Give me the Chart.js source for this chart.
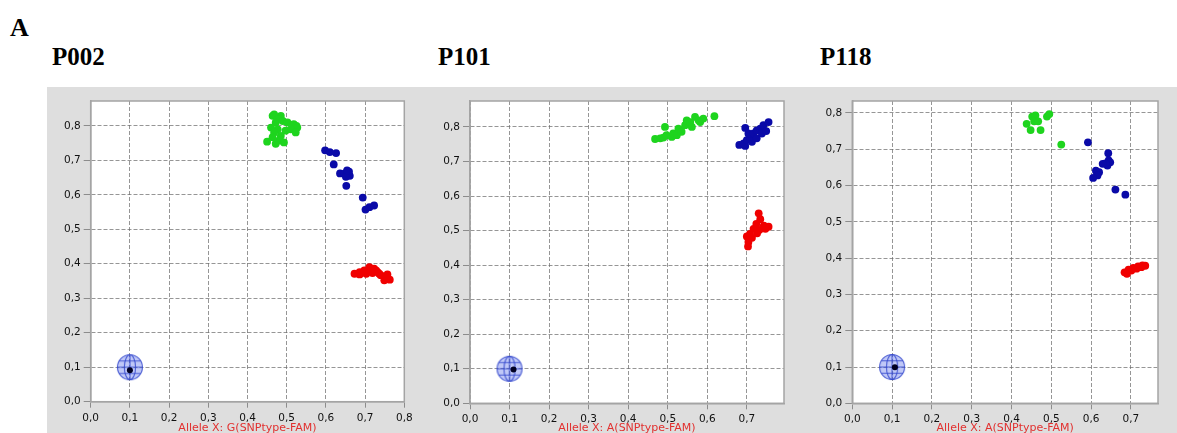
<!DOCTYPE html>
<html>
<head>
<meta charset="utf-8">
<script src="https://cdn.jsdelivr.net/npm/chart.js@4.4.0/dist/chart.umd.min.js"></script>
<style>
body{margin:0;background:#fff;width:1177px;height:433px;overflow:hidden;position:relative}
.strip{position:absolute;left:47px;top:87px;width:1130px;height:346px;background:#dedede}
.lbl{position:absolute;font-family:"Liberation Serif",serif;font-weight:bold;white-space:nowrap;color:#000}
canvas{position:absolute}
</style>
</head>
<body>
<div class="strip"></div>
<div class="lbl" style="left:10px;top:15px;font-size:26px;line-height:26px">A</div>
<div class="lbl" style="left:52px;top:44px;font-size:25px;line-height:25px">P002</div>
<div class="lbl" style="left:438px;top:44px;font-size:25px;line-height:25px">P101</div>
<div class="lbl" style="left:820px;top:44px;font-size:25px;line-height:25px">P118</div>
<canvas id="c1" width="383" height="346" style="left:47px;top:87px"></canvas>
<canvas id="c2" width="380" height="346" style="left:430px;top:87px"></canvas>
<canvas id="c3" width="362" height="346" style="left:810px;top:87px"></canvas>
<script>
// allele intensities, [x, y]
const p002Green = [[0.464,0.829],[0.485,0.829],[0.468,0.833],[0.477,0.819],[0.49,0.814],[0.472,0.81],[0.502,0.81],[0.518,0.805],[0.525,0.8],[0.527,0.795],[0.46,0.795],[0.477,0.79],[0.51,0.79],[0.497,0.786],[0.468,0.781],[0.523,0.781],[0.485,0.771],[0.464,0.767],[0.48,0.757],[0.45,0.754],[0.472,0.748],[0.493,0.752]];
const p002Blue = [[0.598,0.729],[0.61,0.724],[0.626,0.721],[0.62,0.688],[0.636,0.662],[0.648,0.662],[0.659,0.667],[0.661,0.655],[0.651,0.652],[0.654,0.671],[0.652,0.626],[0.694,0.592],[0.701,0.557],[0.711,0.564],[0.723,0.569]];
const p002Red = [[0.673,0.371],[0.686,0.376],[0.686,0.369],[0.698,0.381],[0.703,0.371],[0.711,0.39],[0.719,0.373],[0.723,0.386],[0.728,0.381],[0.732,0.376],[0.736,0.371],[0.74,0.367],[0.753,0.362],[0.757,0.369],[0.763,0.354],[0.749,0.352]];

const p101Green = [[0.468,0.765],[0.481,0.767],[0.489,0.769],[0.493,0.8],[0.497,0.776],[0.51,0.771],[0.514,0.781],[0.523,0.776],[0.527,0.795],[0.535,0.786],[0.544,0.805],[0.548,0.819],[0.557,0.814],[0.561,0.8],[0.569,0.829],[0.578,0.819],[0.582,0.814],[0.59,0.824],[0.618,0.831]];
const p101Blue = [[0.696,0.797],[0.681,0.748],[0.696,0.745],[0.692,0.752],[0.7,0.762],[0.713,0.757],[0.708,0.771],[0.704,0.781],[0.717,0.781],[0.725,0.767],[0.725,0.79],[0.734,0.795],[0.738,0.781],[0.742,0.805],[0.749,0.788],[0.755,0.814]];
const p101Red = [[0.73,0.55],[0.734,0.533],[0.724,0.519],[0.743,0.514],[0.755,0.511],[0.747,0.505],[0.717,0.505],[0.732,0.502],[0.726,0.492],[0.708,0.49],[0.7,0.483],[0.713,0.479],[0.704,0.467],[0.703,0.454]];

const p118Green = [[0.438,0.77],[0.452,0.79],[0.46,0.793],[0.457,0.777],[0.467,0.777],[0.448,0.753],[0.473,0.753],[0.489,0.79],[0.495,0.797],[0.525,0.713]];
const p118Blue = [[0.592,0.719],[0.643,0.689],[0.644,0.669],[0.648,0.664],[0.641,0.655],[0.636,0.661],[0.629,0.66],[0.612,0.641],[0.62,0.637],[0.616,0.628],[0.605,0.621],[0.661,0.589],[0.686,0.575]];
const p118Red = [[0.684,0.361],[0.69,0.357],[0.694,0.368],[0.701,0.366],[0.706,0.373],[0.714,0.371],[0.718,0.377],[0.726,0.375],[0.729,0.38],[0.736,0.379]];

// no-template-control target and its sample
const ntcTarget = [0.1, 0.1];
const ntcP002 = [0.1, 0.091];
const ntcP101 = [0.11, 0.098];
const ntcP118 = [0.107, 0.099];

const tickStep = 0.1;

const pts = a => a.map(p => ({x:p[0], y:p[1]}));
const fmtTick = v => v.toFixed(1).replace('.', ',');

function globe(){
  const c = document.createElement('canvas');
  c.width = c.height = 28;
  const g = c.getContext('2d'), m = 14, r = 12.5;
  g.fillStyle = 'rgba(90,110,235,0.38)';
  g.beginPath(); g.arc(m,m,r,0,Math.PI*2); g.fill();
  g.strokeStyle = 'rgba(50,70,205,0.85)'; g.lineWidth = 1.1;
  g.beginPath(); g.arc(m,m,r,0,Math.PI*2); g.stroke();
  g.beginPath(); g.ellipse(m,m,r*0.45,r,0,0,Math.PI*2); g.stroke();
  g.beginPath(); g.moveTo(m-r,m); g.lineTo(m+r,m); g.moveTo(m,m-r); g.lineTo(m,m+r); g.stroke();
  g.beginPath(); g.moveTo(m-r*0.87,m-r*0.5); g.lineTo(m+r*0.87,m-r*0.5); g.moveTo(m-r*0.87,m+r*0.5); g.lineTo(m+r*0.87,m+r*0.5); g.stroke();
  return c;
}
const globeImg = globe();

const frame = {
  id: 'frame',
  beforeDraw(c){
    const a = c.chartArea, x = c.ctx;
    x.save(); x.fillStyle = '#fff';
    x.fillRect(a.left, a.top, a.right-a.left, a.bottom-a.top);
    x.restore();
  },
  beforeDatasetsDraw(c){
    const a = c.chartArea, x = c.ctx;
    x.save(); x.strokeStyle = '#a4a4a4'; x.lineWidth = 1.5;
    x.strokeRect(a.left, a.top, a.right-a.left, a.bottom-a.top);
    x.restore();
  }
};

const tickFont = {family: 'DejaVu Sans', size: 10.5};

function panel(id, o){
  const ds = (data, color, r) => ({data: pts(data), backgroundColor: color, borderWidth: 0, pointRadius: r});
  new Chart(document.getElementById(id), {
    type: 'scatter',
    data: { datasets: [
      ds([o.ntc], '#000022', 3),
      {data: pts([ntcTarget]), pointStyle: globeImg, pointRadius: 13},
      ds(o.red, '#f00000', 3.9),
      ds(o.blue, '#0a0aa8', 3.9),
      ds(o.green, '#1ed41e', 3.9)
    ]},
    options: {
      responsive: false, animation: false,
      layout: {padding: {top: o.pt, right: o.pr, left: 0, bottom: 0}},
      plugins: {legend: {display: false}, tooltip: {enabled: false}},
      scales: {
        x: {
          min: 0, max: o.xmax,
          ticks: {stepSize: tickStep, includeBounds: false, autoSkip: false, maxRotation: 0, padding: 4,
            color: '#111', font: tickFont, callback: fmtTick},
          grid: {color: 'rgba(105,105,105,0.7)', tickLength: 6, tickColor: '#8c8c8c', tickBorderDash: []},
          border: {color: '#a4a4a4', width: 1.5, dash: [4,2]},
          title: {display: true, text: o.xtitle, color: '#e2302f', font: {family: 'DejaVu Sans', size: 11}, padding: {top: 0, bottom: -1.5}},
          afterFit: s => { s.height = o.xh; }
        },
        y: {
          min: 0, max: o.ymax,
          ticks: {stepSize: tickStep, includeBounds: false, autoSkip: false, padding: 3,
            color: '#111', font: tickFont, callback: fmtTick},
          grid: {color: 'rgba(105,105,105,0.7)', tickLength: 7, tickColor: '#8c8c8c', tickBorderDash: []},
          border: {color: '#a4a4a4', width: 1.5, dash: [4,2]},
          afterFit: s => { s.width = o.yw; }
        }
      }
    },
    plugins: [frame]
  });
}

panel('c1', {green: p002Green, blue: p002Blue, red: p002Red, ntc: ntcP002, xmax: 0.8, ymax: 0.872,
  xtitle: 'Allele X: G(SNPtype-FAM)', yw: 43.7, xh: 31.3, pt: 11, pr: 25.7});
panel('c2', {green: p101Green, blue: p101Blue, red: p101Red, ntc: ntcP101, xmax: 0.794, ymax: 0.875,
  xtitle: 'Allele X: A(SNPtype-FAM)', yw: 40, xh: 29.7, pt: 12, pr: 26});
panel('c3', {green: p118Green, blue: p118Blue, red: p118Red, ntc: ntcP118, xmax: 0.768, ymax: 0.833,
  xtitle: 'Allele X: A(SNPtype-FAM)', yw: 42.3, xh: 29.7, pt: 12, pr: 5.3});
</script>
</body>
</html>
